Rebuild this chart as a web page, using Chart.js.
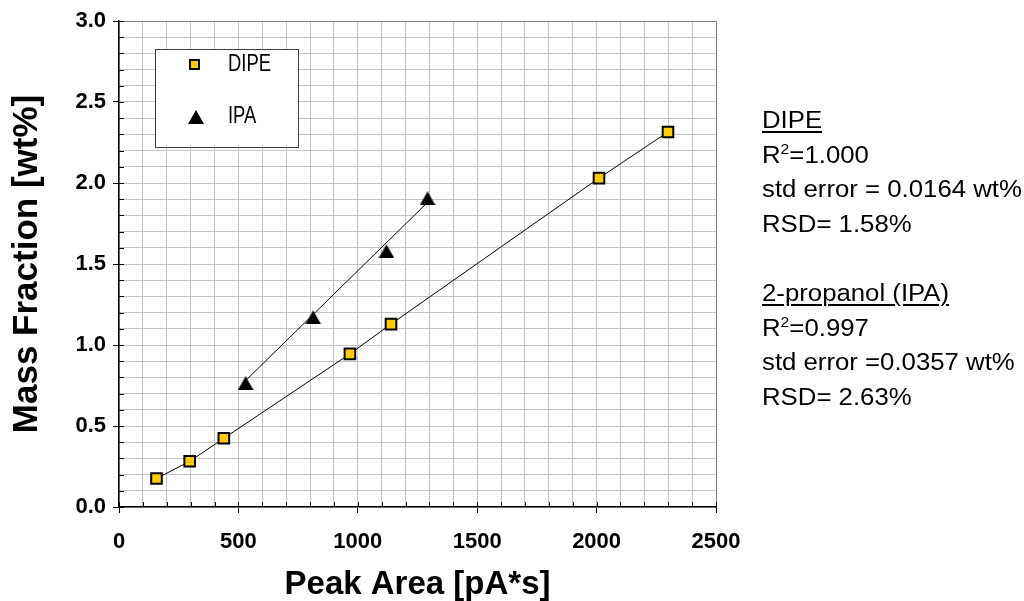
<!DOCTYPE html>
<html>
<head>
<meta charset="utf-8">
<script src="https://cdn.jsdelivr.net/npm/chart.js@4.4.1/dist/chart.umd.min.js"></script>
<style>
  html, body { margin: 0; padding: 0; background: #fff; }
  #wrap { position: relative; width: 1024px; height: 601px; }
  #stats {
    position: absolute; left: 762px; top: 103px;
    font-family: "Liberation Sans", Arial, sans-serif; font-size: 23px; line-height: 34.6px;
    color: #000; white-space: nowrap;
    transform: scaleX(1.12); transform-origin: 0 0;
  }
  #stats u { text-decoration-thickness: 2px; text-underline-offset: 3px; }
  #stats sup { font-size: 14px; vertical-align: 9px; line-height: 0; }
</style>
</head>
<body>
<div id="wrap">
  <canvas id="calChart" width="1024" height="601"></canvas>
  <div id="stats">
    <div><u>DIPE</u></div>
    <div>R<sup>2</sup>=1.000</div>
    <div>std error = 0.0164 wt%</div>
    <div>RSD= 1.58%</div>
    <div>&nbsp;</div>
    <div><u>2-propanol (IPA)</u></div>
    <div>R<sup>2</sup>=0.997</div>
    <div>std error =0.0357 wt%</div>
    <div>RSD= 2.63%</div>
  </div>
</div>
<script>
// values
const dipeArea = [157, 296, 439, 967, 1139, 2010, 2299];
const dipeMass = [0.176, 0.282, 0.424, 0.945, 1.129, 2.030, 2.315];
const ipaArea = [530, 813, 1120, 1292];
const ipaMass = [0.764, 1.170, 1.578, 1.905];
// IPA trend line ends
const ipaFitArea = [530, 1292];
const ipaFitMass = [0.780, 1.880];

const xLabels = [0, 500, 1000, 1500, 2000, 2500];
const yLabels = [0.0, 0.5, 1.0, 1.5, 2.0, 2.5, 3.0];

const toPoints = (xs, ys) => xs.map((x, i) => ({ x: x, y: ys[i] }));
const isYLabel = v => yLabels.some(t => Math.abs(t - v) < 1e-6);

// triangle marker centred in its box, like the original
const tri = document.createElement("canvas");
tri.width = 16;
tri.height = 14;
const tctx = tri.getContext("2d");
tctx.fillStyle = "#000";
tctx.beginPath();
tctx.moveTo(8, 0);
tctx.lineTo(16, 14);
tctx.lineTo(0, 14);
tctx.closePath();
tctx.fill();

// small black ticks inside the plot along both axes
const innerTicks = {
  id: "innerTicks",
  beforeDatasetsDraw(chart) {
    const { ctx, chartArea: a, scales: { x, y } } = chart;
    ctx.save();
    ctx.strokeStyle = "#000";
    ctx.lineWidth = 1;
    ctx.beginPath();
    x.ticks.forEach(t => {
      const px = Math.round(x.getPixelForValue(t.value)) + 0.5;
      ctx.moveTo(px, a.bottom);
      ctx.lineTo(px, a.bottom - 5);
    });
    y.ticks.forEach(t => {
      const py = Math.round(y.getPixelForValue(t.value)) + 0.5;
      ctx.moveTo(a.left, py);
      ctx.lineTo(a.left + 5, py);
    });
    ctx.stroke();
    ctx.restore();
  }
};

// boxed legend in the upper left of the plot
const boxLegend = {
  id: "boxLegend",
  beforeDatasetsDraw(chart) {
    const ctx = chart.ctx;
    const sets = chart.data.datasets;
    ctx.save();
    ctx.fillStyle = "#fff";
    ctx.fillRect(155, 49, 144, 99);
    ctx.strokeStyle = "#404040";
    ctx.lineWidth = 1;
    ctx.strokeRect(155.5, 49.5, 143, 98);

    // DIPE square
    ctx.fillStyle = "#FFCC00";
    ctx.strokeStyle = "#000";
    ctx.lineWidth = 2;
    ctx.beginPath();
    ctx.rect(190, 60, 9, 9);
    ctx.fill();
    ctx.stroke();
    // IPA triangle
    ctx.drawImage(tri, 188, 110);

    // narrow legend lettering
    ctx.fillStyle = "#000";
    ctx.font = '23px "Liberation Sans", Arial, sans-serif';
    ctx.textBaseline = "middle";
    ctx.translate(228, 0);
    ctx.scale(0.8, 1);
    ctx.fillText(sets[0].label, 0, 65);
    ctx.fillText(sets[1].label, 0, 117);
    ctx.restore();
  }
};

new Chart(document.getElementById("calChart"), {
  type: "scatter",
  data: {
    datasets: [
      {
        label: "DIPE",
        data: toPoints(dipeArea, dipeMass),
        showLine: true,
        borderColor: "#000",
        borderWidth: 1,
        pointStyle: "rect",
        pointRadius: 7.5,
        pointBackgroundColor: "#FFCC00",
        pointBorderColor: "#000",
        pointBorderWidth: 2
      },
      {
        label: "IPA",
        data: toPoints(ipaArea, ipaMass),
        pointStyle: tri,
        pointRadius: 8
      },
      {
        label: "IPA fit",
        data: toPoints(ipaFitArea, ipaFitMass),
        showLine: true,
        borderColor: "#000",
        borderWidth: 1,
        pointRadius: 0
      }
    ]
  },
  options: {
    responsive: false,
    animation: false,
    devicePixelRatio: 1,
    layout: { padding: { left: 0, right: 308, top: 21, bottom: 0 } },
    plugins: {
      legend: { display: false },
      tooltip: { enabled: false }
    },
    scales: {
      x: {
        type: "linear",
        min: 0,
        max: 2500,
        afterFit: s => { s.height = 94; },
        border: { color: "#000", width: 1.5 },
        grid: {
          color: c => c.tick.value === 2500 ? "#808080" : "#c4c4c4",
          lineWidth: 1,
          tickLength: 6,
          tickColor: c => xLabels.includes(c.tick.value) ? "#000" : "rgba(0,0,0,0)"
        },
        ticks: {
          stepSize: 100,
          autoSkip: false,
          maxRotation: 0,
          padding: 16,
          color: "#000",
          font: { family: '"Liberation Sans", Arial, sans-serif', size: 22, weight: "bold" },
          callback: v => xLabels.includes(v) ? String(v) : ""
        },
        title: {
          display: true,
          text: "Peak Area [pA*s]",
          color: "#000",
          padding: { top: 0, bottom: 0 },
          font: { family: '"Liberation Sans", Arial, sans-serif', size: 33, weight: "bold", lineHeight: 1.0 }
        }
      },
      y: {
        type: "linear",
        min: 0,
        max: 3,
        afterFit: s => { s.width = 119; },
        border: { color: "#000", width: 1.5 },
        grid: {
          color: c => Math.abs(c.tick.value - 3) < 1e-6 ? "#808080" : "#c4c4c4",
          lineWidth: 1,
          tickLength: 6,
          tickColor: c => isYLabel(c.tick.value) ? "#000" : "rgba(0,0,0,0)"
        },
        ticks: {
          stepSize: 0.1,
          autoSkip: false,
          padding: 7,
          color: "#000",
          font: { family: '"Liberation Sans", Arial, sans-serif', size: 22, weight: "bold" },
          callback: v => isYLabel(v) ? v.toFixed(1) : ""
        },
        title: {
          display: true,
          text: "Mass Fraction [wt%]",
          color: "#000",
          padding: { top: 6, bottom: 0 },
          font: { family: '"Liberation Sans", Arial, sans-serif', size: 35, weight: "bold" }
        }
      }
    }
  },
  plugins: [innerTicks, boxLegend]
});
</script>
</body>
</html>
